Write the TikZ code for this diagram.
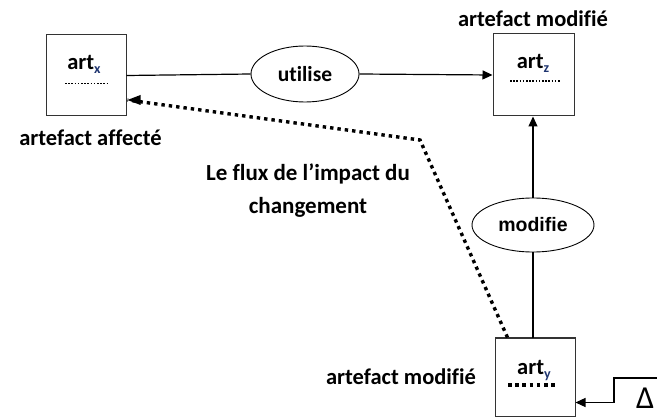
\documentclass[tikz,border=0pt]{standalone}
\usepackage{fontspec}
\setmainfont{Carlito}[Ligatures=NoCommon]
\newfontfamily\arialf{Liberation Sans}
\usetikzlibrary{arrows.meta,calc,shapes.geometric}
\definecolor{subblue}{HTML}{1F3570}
\tikzset{
  artbox/.style={draw=black!80, line width=1pt, minimum width=80pt, minimum height=81pt, inner sep=0pt},
  rel/.style={draw, ellipse, line width=0.9pt, inner sep=0pt},
  lbl/.style={font=\fontsize{22.5}{26}\selectfont\bfseries, inner sep=0pt},
  conn/.style={line width=1.2pt},
  tip/.style={-{Triangle[length=10pt,width=9pt]}},
  flux/.style={line width=3.4pt, dash pattern=on 3.4pt off 4pt},
}
\newcommand{\artname}[1]{\fontsize{22.5}{24}\selectfont\bfseries art\raisebox{-4pt}{\fontsize{14}{14}\selectfont\color{subblue}#1}}
\begin{document}
\begin{tikzpicture}[x=1pt,y=-1pt]
\useasboundingbox (0,0) rectangle (657,417);
% boxes
\node[artbox] (artx) at (86,75.5) {};
\node[artbox, minimum width=81pt, minimum height=82pt] (artz) at (533.5,75) {};
\node[artbox, minimum height=78pt] (arty) at (535,377) {};
% box contents
\node[inner sep=0pt, anchor=base] (tx) at (84,70) {\artname{x}};
\node[inner sep=0pt, anchor=base] (tz) at (533,69) {\artname{z}};
\node[inner sep=0pt, anchor=base] (ty) at (534,374) {\artname{y}};
\draw[line width=1.6pt, dash pattern=on 1.6pt off 1.6pt] (65,83.5) -- (109,83.5);
\draw[line width=1.6pt, dash pattern=on 1.6pt off 1.6pt] (510,81) -- (560,81);
\draw[line width=3.6pt, dash pattern=on 3.6pt off 3.6pt] (508,385) -- (555,385);
% relations
\node[rel, minimum width=108pt, minimum height=56pt, font=\fontsize{21.5}{24}\selectfont\bfseries] (util) at (305,74) {utilise};
\node[rel, minimum width=122pt, minimum height=54pt, font=\arialf\fontsize{19.5}{20}\selectfont\bfseries] (modi) at (533,225) {modifie};
% connectors
\draw[conn] (artx.east) -- (util.west);
\draw[conn,tip] (util.east) -- (artz.west);
\draw[conn] (arty.north -| modi.south) -- (modi.south);
\draw[conn,tip] (modi.north) -- (artz.south -| modi.north);
% flux dotted
\coordinate (fstart) at ($(arty.north west)+(13,0)$);
\coordinate (fcorner) at (420,140);
\coordinate (fend) at ($(artx.east)+(1,24.5)$);
\draw[flux] (fstart) -- (fcorner) -- (fend);
\fill ($(artx.east)+(1,24.5)$) -- ++(13,-5) -- ++(0,10) -- cycle;
% delta input
\node[inner sep=0pt, anchor=west, font=\fontsize{32}{32}\selectfont] (delta) at (636,398) {Δ};
\coordinate (din) at (660,378);
\draw[conn,tip] (din) -- (614,378) -- (614,402.5) -- (arty.east |- 0,402.5);
% labels
\node[lbl] (l1) at (533,19) {artefact modifié};
\node[lbl] (l2) at (90.5,138) {artefact affecté};
\node[lbl, align=center, font=\fontsize{23}{33}\selectfont\bfseries] (l3) at (308,191) {Le flux de l’impact du\\changement};
\node[lbl] (l4) at (401,377) {artefact modifié};
\end{tikzpicture}
\end{document}
